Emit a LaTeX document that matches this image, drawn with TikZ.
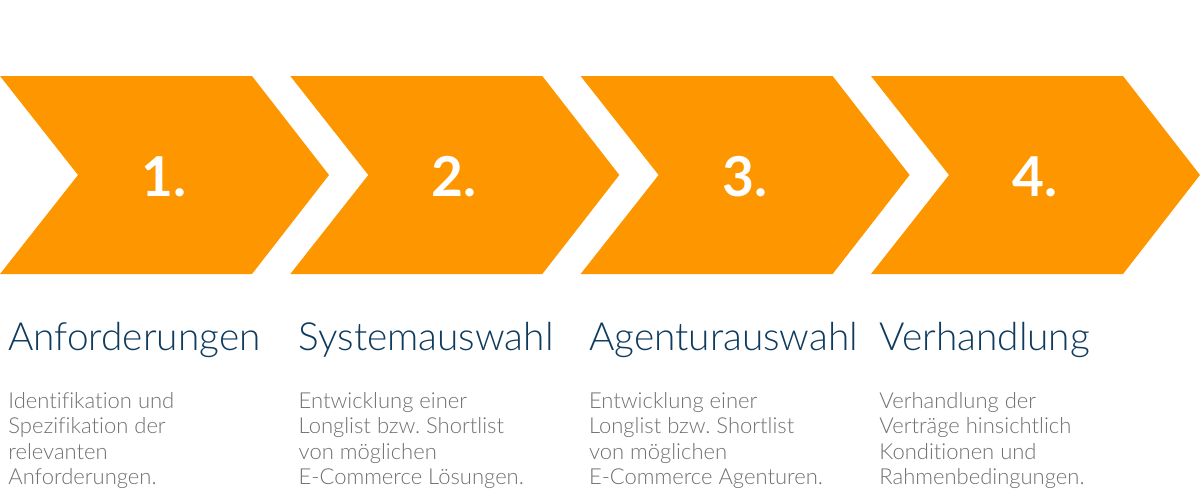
\documentclass[tikz,border=0pt]{standalone}
\usepackage{fontspec}
\setmainfont{Lato}
\newfontfamily\lightfont[Ligatures=NoCommon]{Lato Light}
\usetikzlibrary{positioning}
\frenchspacing
\definecolor{chevorange}{RGB}{254,150,0}
\definecolor{titleblue}{RGB}{14,59,94}
\definecolor{bodygray}{RGB}{112,112,112}
\tikzset{
  chevron/.style={fill=chevorange,draw=none},
  stepnum/.style={text=white,font=\bfseries\fontsize{27.5}{30}\selectfont,inner sep=0pt},
  steptitle/.style={text=titleblue,font=\lightfont\fontsize{19.4}{22}\selectfont,inner sep=0pt,anchor=base west},
  stepbody/.style={text=bodygray,font=\lightfont\fontsize{11}{12.75}\selectfont,inner sep=0pt,align=left,anchor=north west}
}
\begin{document}
\begin{tikzpicture}[x=0.5pt,y=-0.5pt]
  \useasboundingbox (0,0) rectangle (1200,489);
  \foreach \i/\xo/\ttl/\txt in {
    1/0/Anforderungen/{Identifikation und\\Spezifikation der\\relevanten\\Anforderungen.},
    2/290.3/Systemauswahl/{Entwicklung einer\\Longlist bzw. Shortlist\\von möglichen\\E-Commerce Lösungen.},
    3/580.6/Agenturauswahl/{Entwicklung einer\\Longlist bzw. Shortlist\\von möglichen\\E-Commerce Agenturen.},
    4/871/Verhandlung/{Verhandlung der\\Verträge hinsichtlich\\Konditionen und\\Rahmenbedingungen.}}
  {
    %chevron
    \fill[chevron] (\xo,76) -- ++(252,0) -- ++(77,99) -- ++(-77,99) -- ++(-252,0) -- ++(78,-99) -- cycle;
    \node[stepnum] (num\i) at (\xo+164,176.5) {\i.};
    %title and text below
    \node[steptitle] (title\i) at (\xo+8,350) {\ttl};
    \node[stepbody] (body\i) at (\xo+8,392) {\txt};
  }
\end{tikzpicture}
\end{document}
